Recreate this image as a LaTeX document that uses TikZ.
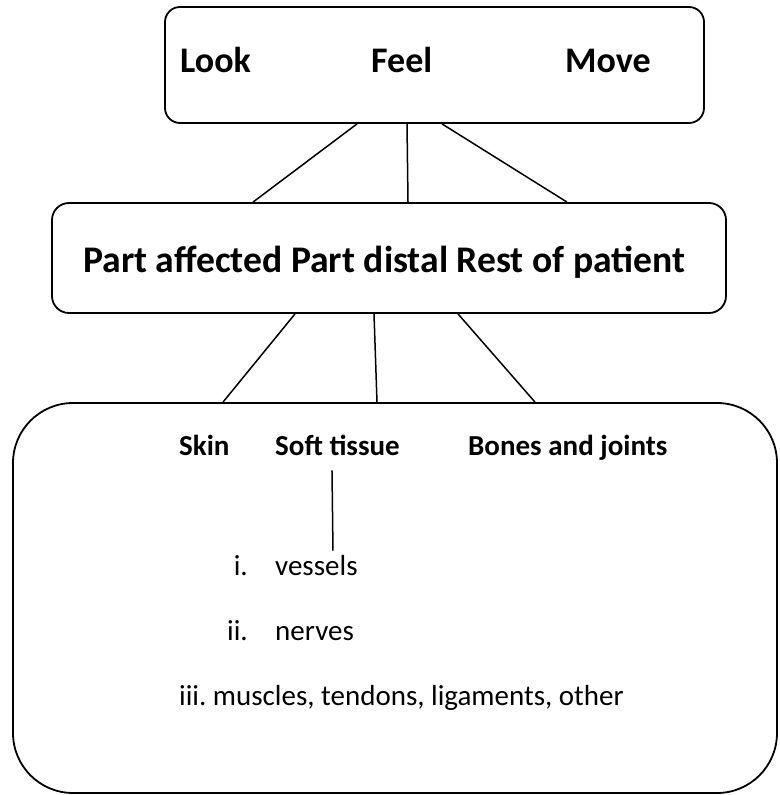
\documentclass[tikz,border=0pt]{standalone}
\usepackage{fontspec}
\setmainfont{Carlito}
\frenchspacing
\usetikzlibrary{positioning, calc}
\colorlet{colGris}{black}
\colorlet{colPrimario}{black}
\tikzset{
  cajaBase/.style={
    draw=colGris, line width=1.8pt, inner sep=0pt,
    fill=white
  },
  cajaExamen/.style={cajaBase, rounded corners=15pt,
    minimum width=539pt, minimum height=116pt},
  cajaParte/.style={cajaBase, rounded corners=17pt,
    minimum width=674pt, minimum height=110pt},
  cajaTejido/.style={cajaBase, rounded corners=60pt,
    minimum width=764pt, minimum height=390pt},
  textoGrande/.style={anchor=base west, inner sep=0pt, text=colPrimario,
    font=\bfseries\fontsize{36}{40}\selectfont},
  textoMedio/.style={anchor=base west, inner sep=0pt, text=colPrimario,
    font=\bfseries\fontsize{37.6}{44}\selectfont},
  textoTejido/.style={anchor=base west, inner sep=0pt, text=colPrimario,
    font=\bfseries\fontsize{29}{34}\selectfont},
  textoLista/.style={anchor=base west, inner sep=0pt, text=colPrimario,
    font=\fontsize{29}{34}\selectfont},
  numLista/.style={textoLista, anchor=base east},
  linea/.style={draw=colGris, line width=1.5pt},
}
\begin{document}
\begin{tikzpicture}[x=1pt, y=-1pt]
    \useasboundingbox (0,0) rectangle (779,795);
    % cajas
    \node[cajaExamen] (examen) at (434.5,65) {};
    \node[cajaParte] (parte) at (389,258) {};
    \node[cajaTejido] (tejido) at (395,598) {};
    % mirar, palpar, mover
    \node[textoGrande] (look) at (180,72) {Look};
    \node[textoGrande] (feel) at (371,72) {Feel};
    \node[textoGrande] (move) at (565,72) {Move};
    \node[textoMedio] (partes) at (83,272) {Part affected Part distal Rest of patient};
    % tejidos
    \node[textoTejido] (skin) at (179,455) {Skin};
    \node[textoTejido] (soft) at (275,455) {Soft tissue};
    \node[textoTejido] (bones) at (468,455) {Bones and joints};
    \node[numLista] (numUno) at (248,575) {i.};
    \node[textoLista] (vessels) at (275,575) {vessels};
    \node[numLista] (numDos) at (248,640) {ii.};
    \node[textoLista] (nerves) at (275,640) {nerves};
    \node[textoLista] (others) at (179,705) {iii. muscles, tendons, ligaments, other};
    % conectores
    \draw[linea] ([xshift=-77.5pt]examen.south) -- ([xshift=-136pt]parte.north);
    \draw[linea] ([xshift=-27.5pt]examen.south) -- ([xshift=19pt]parte.north);
    \draw[linea] ([xshift=7.5pt]examen.south) -- ([xshift=178pt]parte.north);
    \draw[linea] ([xshift=-94pt]parte.south) -- ([xshift=-172pt]tejido.north);
    \draw[linea] ([xshift=-15pt]parte.south) -- ([xshift=-18pt]tejido.north);
    \draw[linea] ([xshift=69pt]parte.south) -- ([xshift=140pt]tejido.north);
    \draw[linea] ($(soft.south)+(-5.5pt,-15pt)$) -- ($(soft.south |- vessels.north)+(-4.5pt,4pt)$);
  \end{tikzpicture}
\end{document}
